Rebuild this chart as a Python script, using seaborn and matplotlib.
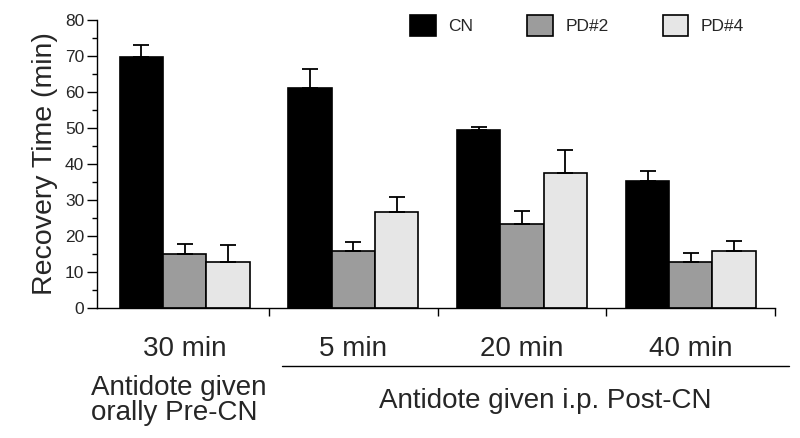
import matplotlib
matplotlib.use('Agg')
import matplotlib.pyplot as plt
import matplotlib.patches as mpatches
import matplotlib.transforms as mtransforms
import numpy as np
import pandas as pd
import seaborn as sns

# values (mean recovery time and upper error, min)
groups = ['30 min', '5 min', '20 min', '40 min']
treatments = ['CN', 'PD#2', 'PD#4']
cn_mean = [69.8, 61.1, 49.4, 35.4]
cn_err = [3.2, 5.3, 1.0, 2.8]
pd2_mean = [15.0, 15.8, 23.2, 12.7]
pd2_err = [2.8, 2.5, 3.7, 2.5]
pd4_mean = [12.9, 26.8, 37.6, 15.8]
pd4_err = [4.5, 4.0, 6.2, 2.9]

colors = {'CN': '#000000', 'PD#2': '#9c9c9c', 'PD#4': '#e6e6e6'}


def main():
    sns.set_style('white')
    plt.rcParams['font.family'] = ['Liberation Sans', 'DejaVu Sans']

    df = pd.DataFrame({
        'group': groups * 3,
        'treatment': np.repeat(treatments, len(groups)),
        'time': cn_mean + pd2_mean + pd4_mean,
    })
    errs = {'CN': cn_err, 'PD#2': pd2_err, 'PD#4': pd4_err}

    fig = plt.figure(figsize=(8, 4.38), dpi=100)
    ax = fig.add_axes([0.121, 0.297, 0.848, 0.657])
    sns.barplot(
        data=df, x='group', y='time', hue='treatment',
        order=groups, hue_order=treatments, palette=colors,
        width=0.77, edgecolor='black', linewidth=1.2,
        errorbar=None, legend=False, ax=ax,
    )

    # upward-only error bars on top of each bar
    for cont, t in zip(ax.containers, treatments):
        xs = [p.get_x() + p.get_width() / 2 for p in cont.patches]
        ys = [p.get_height() for p in cont.patches]
        ax.errorbar(xs, ys, yerr=[np.zeros(len(xs)), errs[t]], fmt='none',
                    ecolor='black', elinewidth=1.3, capsize=5.5, capthick=1.3,
                    zorder=1)

    ax.set_xlim(-0.52, 3.5)
    ax.set_ylim(0, 80)
    sns.despine(ax=ax)
    for s in ['left', 'bottom']:
        ax.spines[s].set_linewidth(1.0)
        ax.spines[s].set_color('black')

    ax.set_yticks(np.arange(0, 81, 10))
    ax.set_yticks(np.arange(0, 81, 5), minor=True)
    ax.tick_params(axis='y', which='major', direction='out', length=7, width=1,
                   labelsize=12.5, pad=2, left=True, color='black')
    ax.tick_params(axis='y', which='minor', direction='out', length=3.5, width=1,
                   left=True, color='black')

    ax.set_xticks([0.5, 1.5, 2.5, 3.5])
    ax.set_xticklabels([])
    ax.set_xticks(range(len(groups)), minor=True)
    ax.set_xticklabels(groups, minor=True)
    ax.tick_params(axis='x', which='major', direction='out', length=6, width=1,
                   bottom=True, color='black')
    ax.tick_params(axis='x', which='minor', length=0, labelsize=20, pad=20.5)

    ax.set_xlabel('')
    ax.set_ylabel('Recovery Time (min)', fontsize=20.5, labelpad=5)

    # group annotations below the axis
    trans = mtransforms.blended_transform_factory(ax.transData, ax.transAxes)
    ax.plot([0.578, 3.58], [-0.201, -0.201], color='black', lw=1.0,
            transform=trans, clip_on=False)
    ax.text(-0.556, -0.232, 'Antidote given\norally Pre-CN', transform=trans,
            ha='left', va='top', fontsize=20, linespacing=0.98)
    ax.text(2.14, -0.28, 'Antidote given i.p. Post-CN', transform=trans,
            ha='center', va='top', fontsize=20)

    handles = [mpatches.Patch(facecolor=colors[t], edgecolor='black', linewidth=1.2,
                              label=t) for t in treatments]
    fig.legend(handles=handles, loc='upper left', bbox_to_anchor=(0.513, 0.966),
               ncol=3, frameon=False, fontsize=12.5, handlelength=1.45,
               handleheight=1.45, handletextpad=0.75, columnspacing=3.1,
               borderpad=0, borderaxespad=0)

    fig.savefig('out.png', dpi=100)
    plt.close(fig)


if __name__ == '__main__':
    main()
